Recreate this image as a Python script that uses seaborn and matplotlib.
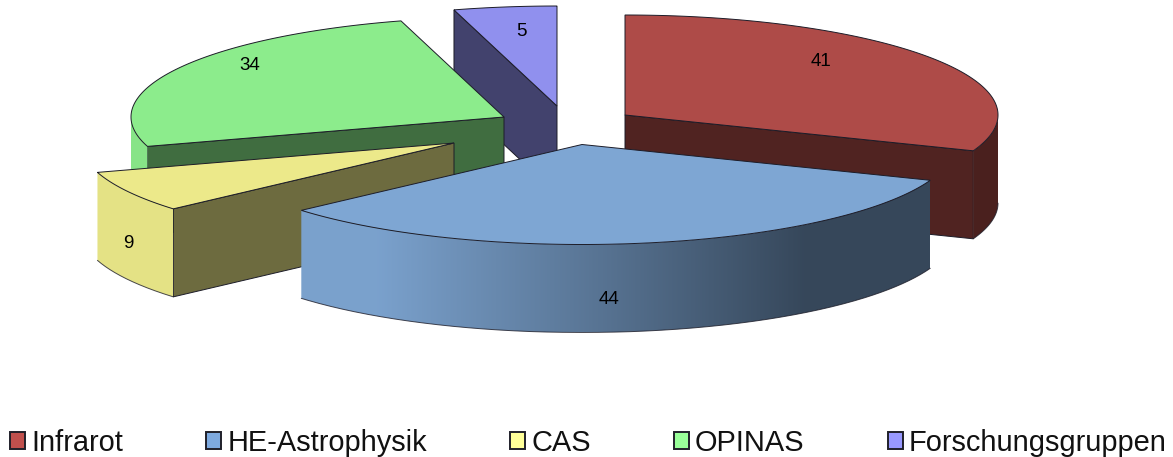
import numpy as np
import matplotlib
matplotlib.use("Agg")
import matplotlib.pyplot as plt
import seaborn as sns
from matplotlib.colors import to_rgb
from matplotlib.patches import Patch, Polygon

# Research groups and their head counts
groups = ["Infrarot", "HE-Astrophysik", "CAS", "OPINAS", "Forschungsgruppen"]
counts = [41, 44, 9, 34, 5]

top_colors = ["#AE4B48", "#7EA6D3", "#ECE98A", "#8CEC8C", "#9090EE"]
legend_colors = ["#C0504D", "#7EAAE0", "#FFFF99", "#99FF99", "#9999FF"]

# Pixel location of each exploded slice's apex, and of its value label
apex_xy = [(625, 115), (582, 144.5), (454, 143), (504, 117), (557, 106)]
label_xy = [(821, 61), (609, 299), (128, 243), (250, 66), (521, 32)]

RX, RY, DEPTH = 373, 100, 88
FACE_SHADE = 0.46

sns.set_theme(style="white")
plt.rcParams["font.family"] = ["Liberation Sans", "DejaVu Sans"]

fig = plt.figure(figsize=(11.73, 4.57), dpi=100)
ax = fig.add_axes([0, 0, 1, 1])
ax.set_axis_off()


def apparent(theta):
    # Slight foreshortening of the tilted disc on its far left side
    return theta + np.interp(theta, [0, 111, 346.5, 360], [0, 0, -2.5, 0])


def rim(theta, cx, cy):
    t = np.radians(apparent(np.asarray(theta, dtype=float)))
    return cx + RX * np.sin(t), cy - RY * np.cos(t)


def rim_shade(sin_t):
    return np.interp(sin_t, [-1, -0.55, 0, 0.6, 1], [0.97, 0.97, 0.72, 0.43, 0.43])


def draw_slice(start, stop, color, cx, cy, z):
    rgb = np.array(to_rgb(color))
    edge = "#1c1c28"
    # Radial cut faces turned towards the viewer
    for angle, visible in ((stop, 0 < stop < 180), (start, 180 < start < 360)):
        if visible:
            x, y = rim([angle], cx, cy)
            pts = [(cx, cy), (x[0], y[0]), (x[0], y[0] + DEPTH), (cx, cy + DEPTH)]
            ax.add_patch(Polygon(pts, closed=True, fc=rgb * FACE_SHADE, ec=edge,
                                 lw=0.7, zorder=z))
    theta = np.linspace(start, stop, 240)
    x, y = rim(theta, cx, cy)
    # Outer wall on the front half of the disc, with a left-to-right gradient
    front = np.cos(np.radians(apparent(theta))) < 0
    if front.any():
        fx, fy = x[front], y[front]
        wall = np.column_stack([np.r_[fx, fx[::-1]], np.r_[fy, fy[::-1] + DEPTH]])
        clip = Polygon(wall, closed=True, fc="none", ec="none", transform=ax.transData)
        ax.add_patch(clip)
        columns = np.linspace(fx.min(), fx.max(), 400)
        shade = rim_shade((columns - cx) / RX)[:, None] * rgb
        img = ax.imshow(shade[None, :, :], aspect="auto", interpolation="bilinear",
                        extent=(columns[0], columns[-1], fy.max() + DEPTH, fy.min()),
                        zorder=z + 0.1)
        img.set_clip_path(clip)
        ax.plot(fx, fy + DEPTH, color=edge, lw=0.7, alpha=0.8, zorder=z + 0.2)
    # Top surface
    pts = np.column_stack([np.r_[cx, x], np.r_[cy, y]])
    ax.add_patch(Polygon(pts, closed=True, fc=rgb, ec=edge, lw=0.7, zorder=z + 0.3))


sweep = np.array(counts) / sum(counts) * 360
stops = np.cumsum(sweep)
starts = stops - sweep

# Painted from the back of the disc to the front
paint_order = [4, 3, 0, 2, 1]
for rank, i in enumerate(paint_order):
    draw_slice(starts[i], stops[i], top_colors[i], *apex_xy[i], z=2 + rank)

ax.set_xlim(0, 1173)
ax.set_ylim(457, 0)

for value, (lx, ly) in zip(counts, label_xy):
    ax.text(lx, ly, str(value), ha="center", va="center", fontsize=13.5,
            color="black", zorder=20)

handles = [Patch(fc=c, ec="#20202a", lw=1.4) for c in legend_colors]
ax.legend(handles, groups, ncol=5, loc="lower left",
          bbox_to_anchor=(10 / 1173, 0.0), frameon=False, fontsize=20.9,
          handlelength=0.52, handleheight=0.52, handletextpad=0.2,
          columnspacing=2.875, borderpad=0, borderaxespad=0, labelcolor="#111111")

fig.savefig("out.png", dpi=100, facecolor="white")
